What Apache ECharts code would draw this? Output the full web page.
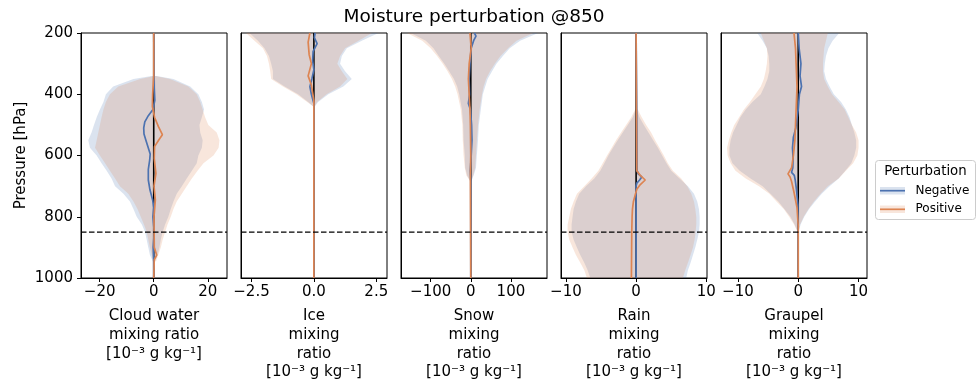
<!DOCTYPE html>
<html>
<head>
<meta charset="utf-8">
<script src="https://cdn.jsdelivr.net/npm/echarts@6/dist/echarts.min.js"></script>
<style>
  html, body { margin: 0; padding: 0; background: #fff; }
  #chart { width: 980px; height: 381px; }
</style>
</head>
<body>
<div id="chart"></div>
<script>
// ---- Data: spread bands (lo/hi) and median profiles per hydrometeor ----
const pressureTicks = [200, 400, 600, 800, 1000];
const perturbationLevel = 850;

// Cloud water [1e-3 g/kg]
const cloudBandP  = [340,350,375,400,425,450,475,500,525,550,575,600,625,650,675,700,725,750,775,800,825,850,875,900,925,945];
const cloudNegLo  = [-0.8,-7.5,-15,-17.7,-18.6,-19.9,-21.1,-22.1,-23,-24.2,-23.6,-21.1,-19.3,-17.4,-15.6,-14.3,-11.2,-8.8,-7.5,-6.3,-4.4,-3.2,-2.6,-2,-1.4,-0.4];
const cloudNegHi  = [1.1,7.3,13.5,16.5,17.8,18.6,17.8,16.9,17.2,18.1,17.8,16.5,15.9,14.1,12.2,10.4,8.5,7.3,6.3,5.4,4.2,3.3,2.6,2.1,1.4,0.5];
const cloudPosLo  = [0.2,-5,-13.1,-16.2,-17.7,-18.6,-19.3,-19.9,-20.5,-21.1,-21.7,-19.9,-18,-16.2,-14.3,-12.5,-9.4,-7.5,-6,-4.8,-3.6,-2.6,-2,-1.4,-0.7,-0.1];
const cloudPosHi  = [0.6,6,12.8,15.9,17.2,18.1,19,20.2,23.3,24.3,24,22.1,18.4,16.2,14.1,12.2,10.4,8.5,7.3,6.3,5.1,4.2,3.3,2.6,1.7,0.9];
const cloudNegLineP = [200,380,420,450,470,490,510,530,550,570,595,615,645,680,712,745,770,800,850,900,940,1000];
const cloudNegLine  = [0,0.2,0.4,-0.3,-2.0,-3.3,-3.7,-3.6,-2.9,-2.2,-1.3,-1.5,-2.0,-2.0,-1.4,-0.4,0,-0.3,0.2,-0.2,0,0];
const cloudPosLineP = [200,340,400,440,475,505,532,550,571,610,658,700,745,800,900,925,940,1000];
const cloudPosLine  = [0,0,-0.4,-0.5,0.3,1.7,3.2,1.8,0.3,0.2,0.8,0.1,0.6,0.1,0.2,1.1,0.2,0];

// Ice
const iceBandP = [200,225,250,275,300,325,350,375,400,425,440];
const iceNegLo = [-2.58,-2.24,-1.98,-1.8,-1.71,-1.64,-1.64,-1.17,-0.63,-0.23,-0.03];
const iceNegHi = [2.59,1.92,1.32,1.12,1.05,1.25,1.52,1.18,0.58,0.17,0.04];
const icePosLo = [-2.72,-2.38,-2.04,-1.88,-1.8,-1.75,-1.71,-1.24,-0.7,-0.27,-0.02];
const icePosHi = [2.33,1.79,1.25,1.05,0.94,1.12,1.34,1.05,0.51,0.13,0.02];
const iceNegLineP = [200,205,215,235,260,290,320,350,375,400,430,1000];
const iceNegLine  = [0.05,0.13,0.02,0.13,-0.03,-0.05,0,-0.08,-0.16,-0.1,0,0];
const icePosLineP = [200,230,270,300,340,370,420,1000];
const icePosLine  = [-0.16,-0.23,-0.19,-0.1,-0.23,-0.1,0,0];

// Snow
const snowBandP = [200,225,250,275,300,325,350,375,400,450,500,550,600,640,665,685];
const snowNegLo = [-150,-112,-93,-80,-66,-54,-42,-34,-29,-22,-19,-18,-15,-14,-9,-1];
const snowNegHi = [168,123,97,80,64,53,42,36,30,25,20,18,15,13,7,1];
const snowPosLo = [-159,-121,-100,-84,-70,-58,-47,-39,-33,-25,-21,-20,-18,-15,-11,-1];
const snowPosHi = [156,114,93,74,60,48,38,32,28,22,18,15,13,11,6,1];
const snowNegLineP = [200,210,225,250,300,350,400,430,450,500,550,600,650,680,1000];
const snowNegLine  = [9,13,7,1,-2,-4,-3,-6,-1,2,3,1,-1,0,0];
const snowPosLineP = [200,250,300,350,400,450,500,600,660,1000];
const snowPosLine  = [-2,1,-4,-6,-4,-2,-1,0,-1,0];

// Rain
const rainBandP = [450,475,500,525,550,575,600,625,650,675,700,725,750,775,800,825,850,875,900,925,950,975,1000];
const rainNegLo = [-0.05,-0.48,-1.19,-1.9,-2.62,-3.29,-3.95,-4.52,-5.1,-5.95,-7.14,-8.1,-8.57,-8.9,-9.05,-9.19,-9.19,-8.9,-8.43,-7.95,-7.38,-6.9,-6.52];
const rainNegHi = [0.1,0.48,1.1,1.76,2.43,3.1,3.71,4.33,5,6.19,7.38,8.24,8.71,8.95,9.05,9.05,8.95,8.71,8.43,8.1,7.76,7.38,7.14];
const rainPosLo = [-0.14,-0.7,-1.43,-2.14,-2.86,-3.48,-4.14,-4.76,-5.38,-6.33,-7.38,-8.43,-8.9,-9.29,-9.52,-9.76,-9.76,-9.52,-9.05,-8.57,-7.95,-7.38,-7];
const rainPosHi = [0.24,0.8,1.43,2.14,2.71,3.33,3.95,4.52,5.24,6.43,7.29,7.86,8.24,8.43,8.57,8.57,8.48,8.33,8.1,7.76,7.38,7,6.67];
const rainNegLineP = [200,480,650,660,670,680,690,700,1000];
const rainNegLine  = [0,0.1,0.15,0.3,0.8,0.5,0.1,0,0];
const rainPosLineP = [200,450,650,665,680,695,710,730,750,775,800,850,1000];
const rainPosLine  = [0,0.05,0.1,0.6,1.3,0.6,0.1,-0.14,-0.38,-0.52,-0.57,-0.62,-0.67];

// Graupel
const graupelBandP = [200,225,250,275,300,325,350,375,400,425,450,475,500,525,550,575,600,625,650,675,700,725,750,775,800,825,850];
const graupelNegLo = [-6.8,-5.9,-5.2,-4.9,-4.8,-4.8,-5.1,-5.6,-6.2,-7.6,-8.7,-9.6,-10.2,-10.8,-11.2,-11.4,-11.4,-10.9,-9.7,-7.9,-5.9,-4.6,-3.3,-2.3,-1.3,-0.6,-0.1];
const graupelNegHi = [6.8,5.7,5,4.6,4.4,4.3,4.6,5.2,5.9,7.1,7.9,8.5,8.9,9.3,9.6,9.6,9.3,8.8,7.8,6.7,5.2,3.9,2.8,1.8,1,0.4,0.05];
const graupelPosLo = [-6.2,-5.7,-5.2,-5.1,-5.2,-5.4,-5.7,-6.2,-7.1,-8,-9,-9.8,-10.6,-11.1,-11.5,-11.8,-11.7,-11.2,-10.4,-8.7,-6.5,-4.8,-3.6,-2.4,-1.5,-0.7,-0.1];
const graupelPosHi = [4.9,4.6,4.3,4.2,4.1,4.1,4.3,4.9,5.6,6.7,7.7,8.3,8.9,9.6,10,10,9.8,9.1,7.9,6.7,4.9,3.7,2.6,1.7,0.9,0.3,0.02];
const graupelNegLineP = [200,250,300,340,375,400,450,480,510,540,575,610,640,655,665,680,710,760,1000];
const graupelNegLine  = [0,0.15,0.45,0.3,0.55,0.2,0,-0.2,-0.4,-0.8,-0.95,-0.85,-0.9,-1.1,-0.65,-0.5,-0.3,-0.05,0];
const graupelPosLineP = [200,250,300,375,450,500,550,600,640,660,670,685,720,770,830,1000];
const graupelPosLine  = [-0.7,-0.45,-0.35,-0.2,-0.35,-0.45,-0.55,-0.8,-1.1,-1.7,-1.35,-1.1,-0.7,-0.2,0,0];

// Axis labels and tick values
const panelNames = [
  'Cloud water\nmixing ratio\n[10⁻³ g kg⁻¹]',
  'Ice\nmixing\nratio\n[10⁻³ g kg⁻¹]',
  'Snow\nmixing\nratio\n[10⁻³ g kg⁻¹]',
  'Rain\nmixing\nratio\n[10⁻³ g kg⁻¹]',
  'Graupel\nmixing\nratio\n[10⁻³ g kg⁻¹]'
];
const cloudTicks = [-20, 0, 20];
const iceTicks = [-2.5, 0, 2.5];
const snowTicks = [-100, 0, 100];
const rainTicks = [-10, 0, 10];
const graupelTicks = [-10, 0, 10];

// ---- Styling / layout ----
const FONT = 'DejaVu Sans';
const BLUE = '#4C72B0';
const ORANGE = '#DD8452';
const BLUE_FILL = 'rgba(76,114,176,0.2)';
const ORANGE_FILL = 'rgba(221,132,82,0.2)';

const panels = [
  { left: 81,  range: [-26.9, 27.1], ticks: cloudTicks, fmt: v => v.toFixed(0),
    bandP: cloudBandP, negLo: cloudNegLo, negHi: cloudNegHi, posLo: cloudPosLo, posHi: cloudPosHi,
    negP: cloudNegLineP, neg: cloudNegLine, posP: cloudPosLineP, pos: cloudPosLine },
  { left: 241, range: [-2.92, 2.93], ticks: iceTicks, fmt: v => v.toFixed(1),
    bandP: iceBandP, negLo: iceNegLo, negHi: iceNegHi, posLo: icePosLo, posHi: icePosHi,
    negP: iceNegLineP, neg: iceNegLine, posP: icePosLineP, pos: icePosLine },
  { left: 401, range: [-174, 190], ticks: snowTicks, fmt: v => v.toFixed(0),
    bandP: snowBandP, negLo: snowNegLo, negHi: snowNegHi, posLo: snowPosLo, posHi: snowPosHi,
    negP: snowNegLineP, neg: snowNegLine, posP: snowPosLineP, pos: snowPosLine },
  { left: 561, range: [-10.7, 10.1], ticks: rainTicks, fmt: v => v.toFixed(0),
    bandP: rainBandP, negLo: rainNegLo, negHi: rainNegHi, posLo: rainPosLo, posHi: rainPosHi,
    negP: rainNegLineP, neg: rainNegLine, posP: rainPosLineP, pos: rainPosLine },
  { left: 721, range: [-12.8, 11.4], ticks: graupelTicks, fmt: v => v.toFixed(0),
    bandP: graupelBandP, negLo: graupelNegLo, negHi: graupelNegHi, posLo: graupelPosLo, posHi: graupelPosHi,
    negP: graupelNegLineP, neg: graupelNegLine, posP: graupelPosLineP, pos: graupelPosLine }
];

const minusSign = s => String(s).replace('-', '\u2212');

const grids = [], xAxes = [], yAxes = [], series = [];

function bandRenderer(P, lo, hi, fill) {
  return function (params, api) {
    const pts = [];
    for (let i = 0; i < P.length; i++) pts.push(api.coord([hi[i], P[i]]));
    for (let i = P.length - 1; i >= 0; i--) pts.push(api.coord([lo[i], P[i]]));
    return { type: 'polygon', shape: { points: pts }, style: { fill: fill, stroke: null } };
  };
}

panels.forEach((pn, k) => {
  grids.push({ left: pn.left, top: 33, width: 146, height: 245, show: true,
    borderColor: '#000', borderWidth: 1, backgroundColor: 'transparent',
    containLabel: false, outerBoundsMode: 'none' });

  xAxes.push({
    gridIndex: k, type: 'value', min: pn.range[0], max: pn.range[1],
    splitLine: { show: false },
    axisLine: { show: true, onZero: false, lineStyle: { color: '#000', width: 1 } },
    axisTick: { show: true, length: 4, lineStyle: { color: '#000', width: 1 }, customValues: pn.ticks },
    axisLabel: { show: true, customValues: pn.ticks, margin: 7, color: '#000', fontFamily: FONT, fontSize: 15,
      formatter: v => minusSign(pn.fmt(v)) },
    name: panelNames[k], nameLocation: 'middle', nameGap: 29,
    nameTextStyle: { color: '#000', fontFamily: FONT, fontSize: 15, lineHeight: 18.7 }
  });

  yAxes.push({
    gridIndex: k, type: 'value', inverse: true, min: 200, max: 1000, interval: 200,
    splitLine: { show: false },
    axisLine: { show: true, onZero: false, lineStyle: { color: '#000', width: 1 } },
    axisTick: { show: k === 0, length: 4, lineStyle: { color: '#000', width: 1 } },
    axisLabel: { show: k === 0, margin: 8, color: '#000', fontFamily: FONT, fontSize: 15,
      customValues: pressureTicks, formatter: v => String(v) },
    name: k === 0 ? 'Pressure [hPa]' : '', nameLocation: 'middle', nameRotate: 90, nameGap: 52,
    nameTextStyle: { color: '#000', fontFamily: FONT, fontSize: 15 }
  });

  series.push({
    type: 'custom', xAxisIndex: k, yAxisIndex: k, silent: true, z: 1,
    data: [[0, 600]], encode: { x: 0, y: 1 },
    renderItem: bandRenderer(pn.bandP, pn.negLo, pn.negHi, BLUE_FILL)
  });
  series.push({
    type: 'custom', xAxisIndex: k, yAxisIndex: k, silent: true, z: 1,
    data: [[0, 600]], encode: { x: 0, y: 1 },
    renderItem: bandRenderer(pn.bandP, pn.posLo, pn.posHi, ORANGE_FILL)
  });
  // zero reference line
  series.push({
    type: 'line', xAxisIndex: k, yAxisIndex: k, silent: true, z: 2, showSymbol: false,
    data: [[0, pressureTicks[0]], [0, pressureTicks[pressureTicks.length - 1]]],
    lineStyle: { color: '#000', width: 1.6 }
  });
  series.push({
    type: 'line', xAxisIndex: k, yAxisIndex: k, silent: true, z: 3, showSymbol: false,
    data: pn.negP.map((p, i) => [pn.neg[i], p]),
    lineStyle: { color: BLUE, width: 1.7 }
  });
  series.push({
    type: 'line', xAxisIndex: k, yAxisIndex: k, silent: true, z: 4, showSymbol: false,
    data: pn.posP.map((p, i) => [pn.pos[i], p]),
    lineStyle: { color: ORANGE, width: 1.7 }
  });
  // perturbation level (dashed, full panel width)
  series.push({
    type: 'line', xAxisIndex: k, yAxisIndex: k, silent: true, z: 5, showSymbol: false,
    data: [[pn.range[0], perturbationLevel], [pn.range[1], perturbationLevel]],
    lineStyle: { color: '#000', type: [5.5, 2.5], width: 1.3 }
  });
});

const legendX = 875.5, legendY = 160.5;
const graphic = [
  { type: 'text', x: 474, y: 17, style: { text: 'Moisture perturbation @850', fontFamily: FONT, fontSize: 18.5,
      fill: '#000', align: 'center', verticalAlign: 'middle' } },
  { type: 'rect', shape: { x: legendX, y: legendY, width: 100, height: 59, r: 3 },
    style: { fill: 'rgba(255,255,255,0.8)', stroke: '#cccccc', lineWidth: 1 } },
  { type: 'text', x: legendX + 50, y: legendY + 11, style: { text: 'Perturbation', fontFamily: FONT, fontSize: 13.3,
      fill: '#000', align: 'center', verticalAlign: 'middle' } },
  { type: 'rect', shape: { x: legendX + 4.5, y: legendY + 26.5, width: 25, height: 7.5 }, style: { fill: BLUE_FILL } },
  { type: 'line', shape: { x1: legendX + 4.5, y1: legendY + 30.2, x2: legendX + 29.5, y2: legendY + 30.2 },
    style: { stroke: BLUE, lineWidth: 1.7 } },
  { type: 'text', x: legendX + 40, y: legendY + 30.2, style: { text: 'Negative', fontFamily: FONT, fontSize: 12,
      fill: '#000', align: 'left', verticalAlign: 'middle' } },
  { type: 'rect', shape: { x: legendX + 4.5, y: legendY + 45, width: 25, height: 7.5 }, style: { fill: ORANGE_FILL } },
  { type: 'line', shape: { x1: legendX + 4.5, y1: legendY + 48.8, x2: legendX + 29.5, y2: legendY + 48.8 },
    style: { stroke: ORANGE, lineWidth: 1.7 } },
  { type: 'text', x: legendX + 40, y: legendY + 48.8, style: { text: 'Positive', fontFamily: FONT, fontSize: 12,
      fill: '#000', align: 'left', verticalAlign: 'middle' } }
];

const chart = echarts.init(document.getElementById('chart'), null, { renderer: 'canvas' });
chart.setOption({
  animation: false,
  backgroundColor: '#fff',
  textStyle: { fontFamily: FONT },
  grid: grids,
  xAxis: xAxes,
  yAxis: yAxes,
  series: series,
  graphic: graphic
});
</script>
</body>
</html>
